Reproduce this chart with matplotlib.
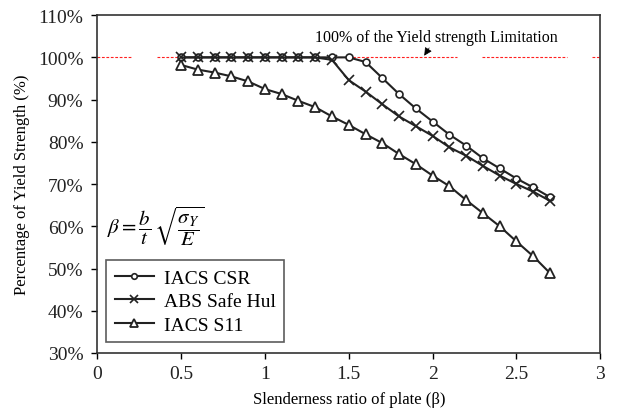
import matplotlib
matplotlib.use("Agg")
import matplotlib.pyplot as plt
from matplotlib.ticker import FuncFormatter

plt.rcParams['font.family'] = ['Liberation Serif', 'DejaVu Serif']
plt.rcParams['mathtext.fontset'] = 'stix'

# slenderness ratio (beta)
beta = [0.5, 0.6, 0.7, 0.8, 0.9, 1.0, 1.1, 1.2, 1.3, 1.4, 1.5, 1.6,
        1.7, 1.8, 1.9, 2.0, 2.1, 2.2, 2.3, 2.4, 2.5, 2.6, 2.7]

# percentage of yield strength
iacs_csr = [100, 100, 100, 100, 100, 100, 100, 100, 100, 100, 100, 98.9,
            95.1, 91.3, 87.9, 84.8, 81.7, 79.1, 76.1, 73.7, 71.3, 69.2, 66.9]
abs_safehull = [100, 100, 100, 100, 100, 100, 100, 100, 100, 99.4, 94.6, 91.9,
                88.9, 86.0, 83.7, 81.4, 78.7, 76.7, 74.3, 72.0, 70.0, 68.2, 66.0]
iacs_s11 = [98.2, 97.1, 96.4, 95.5, 94.3, 92.5, 91.3, 89.7, 88.2, 86.0, 84.0, 81.8,
            79.7, 77.1, 74.7, 72.0, 69.5, 66.2, 63.1, 60.0, 56.4, 52.9, 48.9]

fig = plt.figure(figsize=(6.4, 4.14), dpi=100)
ax = fig.add_axes([0.152, 0.145, 0.786, 0.816])

# 100% yield limit (dashed red, broken like the original)
for a, b in [(0.0, 0.069), (0.119, 0.715), (0.765, 0.934), (0.984, 1.0)]:
    ax.axhline(100, xmin=a, xmax=b, color='#ff2020', linestyle=(0, (2.5, 1.5)),
               linewidth=0.8, zorder=1)

lc = '#222222'
ax.plot(beta, iacs_csr, color=lc, lw=1.5, marker='o', markersize=5,
        markerfacecolor='white', markeredgecolor=lc, markeredgewidth=1.2, label='IACS CSR', zorder=3)
ax.plot(beta, abs_safehull, color=lc, lw=1.5, marker='x', markersize=7,
        markeredgewidth=1.2, label='ABS Safe Hul', zorder=3)
ax.plot(beta, iacs_s11, color=lc, lw=1.5, marker='^', markersize=6.5,
        markerfacecolor='white', markeredgecolor=lc, markeredgewidth=1.3, label='IACS S11', zorder=3)

ax.annotate('100% of the Yield strength Limitation', xy=(1.95, 100.4), xytext=(2.02, 104.8),
            ha='center', va='center', fontsize=11.5,
            arrowprops=dict(arrowstyle='-|>', color='black', lw=0.5, mutation_scale=12,
                            shrinkA=7, shrinkB=0))

ax.text(0.06, 60.2, r'$\beta = \dfrac{b}{t}\,\sqrt{\dfrac{\sigma_Y}{E}}$',
        fontsize=15, ha='left', va='center')

ax.set_xlim(0, 3)
ax.set_ylim(30, 110)
ax.set_xticks([0, 0.5, 1, 1.5, 2, 2.5, 3])
ax.set_xticklabels(['0', '0.5', '1', '1.5', '2', '2.5', '3'])
ax.set_yticks(range(30, 111, 10))
ax.yaxis.set_major_formatter(FuncFormatter(lambda v, p: f'{int(v)}%'))
ax.tick_params(axis='both', direction='out', length=4, width=1, labelsize=14, pad=5,
               labelcolor='#222222')
ax.tick_params(axis='y', pad=6)

ax.set_xlabel('Slenderness ratio of plate (β)', fontsize=12, labelpad=6)
ax.set_ylabel('Percentage of Yield Strength (%)', fontsize=12, labelpad=6)

for s in ax.spines.values():
    s.set_color('#333333')
    s.set_linewidth(1.2)

leg = ax.legend(loc='lower left', bbox_to_anchor=(0.01, 0.02), fontsize=14,
                frameon=True, fancybox=False, edgecolor='#333333',
                handlelength=2.0, handletextpad=0.5, labelspacing=0.3,
                borderpad=0.45, borderaxespad=0.2, markerscale=0.8)
leg.get_frame().set_linewidth(1.2)

fig.savefig('out.png', dpi=100)
